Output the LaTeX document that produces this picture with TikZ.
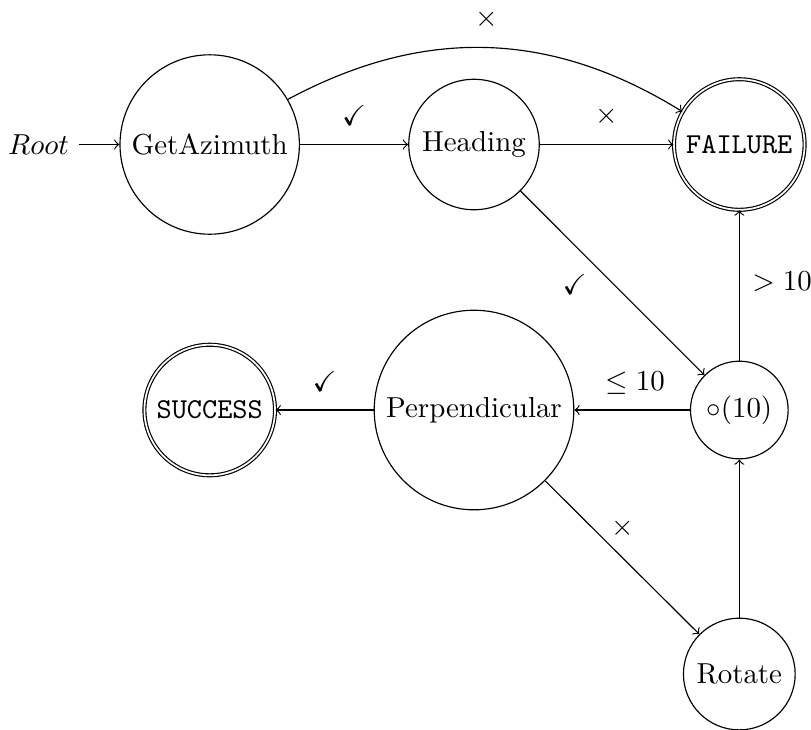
\documentclass[tikz,border=0pt]{standalone}
\usepackage{amssymb}
\begin{document}
\begin{tikzpicture}[x=0.346pt, y=-0.346pt, >=to,
  stateN/.style={circle, draw, inner sep=3.33pt, minimum size=0pt},
  finalN/.style={stateN, double, double distance=0.6pt}]
  \useasboundingbox (0,0) rectangle (811,729);

  % states
  \node[stateN] (az)   at (209.7,144.5) {GetAzimuth};
  \node[stateN] (hd)   at (474,144.5)   {Heading};
  \node[finalN] (fail) at (739.3,144.5) {\texttt{FAILURE}};
  \node[stateN] (tmr)  at (739.3,410)   {$\circ(10)$};
  \node[stateN] (perp) at (474,410)     {Perpendicular};
  \node[finalN] (succ) at (209.7,410)   {\texttt{SUCCESS}};
  \node[stateN] (rot)  at (739.3,674)   {Rotate};
  \node (root) at (38.5,144.5) {$Root$};

  % transitions
  \draw[->] (root) -- (az);
  \draw[->] (az) -- node[above, yshift=3pt] {$\checkmark$} (hd);
  \draw[->] (az) to[bend left=30] node[above, yshift=3pt] {$\times$} (fail);
  \draw[->] (hd) -- node[above, yshift=3pt] {$\times$} (fail);
  \draw[->] (hd) -- node[pos=0.4, below left, xshift=1pt] {$\checkmark$} (tmr);
  \draw[->] (tmr) -- node[right, xshift=1pt, yshift=1.2pt] {$>10$} (fail);
  \draw[->] (tmr) -- node[above, xshift=1pt, yshift=2pt] {$\leq 10$} (perp);
  \draw[->] (perp) -- node[above, yshift=3pt] {$\checkmark$} (succ);
  \draw[->] (perp) -- node[pos=0.4, above right, xshift=-2pt, yshift=-2pt] {$\times$} (rot);
  \draw[->] (rot) -- (tmr);
\end{tikzpicture}
\end{document}
